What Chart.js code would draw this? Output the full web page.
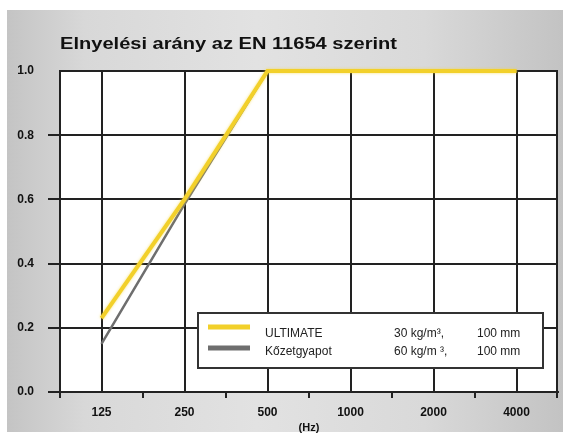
<!DOCTYPE html>
<html>
<head>
<meta charset="utf-8">
<script src="https://cdn.jsdelivr.net/npm/chart.js@4/dist/chart.umd.min.js"></script>
<style>
  html, body { margin: 0; padding: 0; background: #ffffff; }
  #wrap { position: relative; width: 563px; height: 435px; }
  #bg { position: absolute; left: 7px; top: 10px; width: 556px; height: 422px;
        background: linear-gradient(to right, #c4c4c4 0%, #d8d8d8 14%, #e2e2e2 45%, #d9d9d9 75%, #c3c3c3 100%); }
  canvas { position: absolute; left: 0; top: 0; }
</style>
</head>
<body>
<div id="wrap">
  <div id="bg"></div>
  <canvas id="c" width="563" height="435"></canvas>
</div>
<script>
// ---- data ----
const titleText = 'Elnyelési arány az EN 11654 szerint';
const frequencies = ['125', '250', '500', '1000', '2000', '4000'];
const ultimateValues = [0.23, 0.60, 1.0, 1.0, 1.0, 1.0];
const kozetgyapotValues = [0.15, 0.585, 1.0, 1.0, 1.0, 1.0];
const seriesNames = ['ULTIMATE', 'Kőzetgyapot'];
const seriesDensity = ['30 kg/m³,', '60 kg/m ³,'];
const seriesThickness = ['100 mm', '100 mm'];
const axisUnit = '(Hz)';

const YELLOW = '#f2d02a';
const GRAY = '#6e6e6e';
const LINE = '#222222';

const framePlugin = {
  id: 'frame',
  beforeDraw(chart) {
    const { ctx, chartArea: a } = chart;
    ctx.save();
    ctx.fillStyle = '#ffffff';
    ctx.fillRect(a.left, a.top, a.right - a.left, a.bottom - a.top);
    ctx.restore();
  },
  beforeDatasetDraw(chart, args) {
    const ctx = chart.ctx;
    ctx.save();
    if (args.index === 0) {
      ctx.shadowColor = 'rgba(245,215,60,0.7)';
      ctx.shadowBlur = 3;
    }
  },
  afterDatasetDraw(chart) {
    chart.ctx.restore();
  },
  afterDraw(chart) {
    const { ctx, chartArea: a } = chart;
    const x = chart.scales.x;
    ctx.save();
    // right border
    ctx.strokeStyle = LINE;
    ctx.lineWidth = 2;
    ctx.beginPath();
    ctx.moveTo(a.right - 1, a.top);
    ctx.lineTo(a.right - 1, a.bottom);
    ctx.stroke();
    // boundary tick marks below the axis
    const n = frequencies.length;
    const w = (a.right - a.left) / n;
    for (let i = 0; i <= n; i++) {
      let px = Math.round(a.left + i * w);
      if (i === n) px -= 1;
      ctx.beginPath();
      ctx.moveTo(px, a.bottom);
      ctx.lineTo(px, a.bottom + 6);
      ctx.stroke();
    }
    // title (horizontally stretched to match the reference)
    ctx.font = 'bold 17px "Liberation Sans", Arial, sans-serif';
    ctx.fillStyle = '#111111';
    ctx.textBaseline = 'alphabetic';
    ctx.textAlign = 'left';
    const tw = ctx.measureText(titleText).width;
    const sx = 337 / tw;
    ctx.save();
    ctx.translate(60, 49);
    ctx.scale(sx, 1);
    ctx.fillText(titleText, 0, 0);
    ctx.restore();

    // legend box
    const L = 198, T = 313, R = 543, B = 368;
    ctx.fillStyle = '#ffffff';
    ctx.fillRect(L, T, R - L, B - T);
    ctx.strokeStyle = '#333333';
    ctx.lineWidth = 2;
    ctx.strokeRect(L, T, R - L, B - T);
    const rowsY = [334, 352];
    const swY = [327, 348];
    const colors = [YELLOW, GRAY];
    ctx.font = '12px "Liberation Sans", Arial, sans-serif';
    ctx.textBaseline = 'middle';
    ctx.fillStyle = '#222222';
    for (let i = 0; i < seriesNames.length; i++) {
      ctx.strokeStyle = colors[i];
      ctx.lineWidth = 5;
      ctx.beginPath();
      ctx.moveTo(208, swY[i]);
      ctx.lineTo(250, swY[i]);
      ctx.stroke();
      ctx.fillStyle = '#222222';
      ctx.fillText(seriesNames[i], 265, rowsY[i]);
      ctx.fillText(seriesDensity[i], 394, rowsY[i]);
      ctx.fillText(seriesThickness[i], 477, rowsY[i]);
    }
    ctx.restore();
  }
};

new Chart(document.getElementById('c'), {
  type: 'line',
  data: {
    labels: frequencies,
    datasets: [
      { label: seriesNames[0], data: ultimateValues, borderColor: YELLOW, borderWidth: 4,
        pointRadius: 0, tension: 0, clip: false },
      { label: seriesNames[1], data: kozetgyapotValues, borderColor: GRAY, borderWidth: 2.5,
        pointRadius: 0, tension: 0, clip: false }
    ]
  },
  options: {
    responsive: false,
    animation: false,
    events: [],
    layout: { padding: { left: 0, right: 5, top: 71, bottom: 0 } },
    plugins: { legend: { display: false }, title: { display: false }, tooltip: { enabled: false } },
    scales: {
      x: {
        type: 'category',
        offset: true,
        grid: { offset: false, color: LINE, lineWidth: 2, drawTicks: false },
        border: { color: LINE, width: 2 },
        ticks: { color: '#111111', padding: 13,
                 font: { family: '"Liberation Sans", Arial, sans-serif', size: 12, weight: 'bold' } },
        title: { display: true, text: axisUnit, color: '#111111', padding: { top: 0, bottom: 0 },
                 font: { family: '"Liberation Sans", Arial, sans-serif', size: 11, weight: 'bold' } },
        afterFit(s) { s.height = 43; }
      },
      y: {
        min: 0, max: 1,
        ticks: { stepSize: 0.2, padding: 14, color: '#111111',
                 callback: v => Number(v).toFixed(1),
                 font: { family: '"Liberation Sans", Arial, sans-serif', size: 12, weight: 'bold' } },
        grid: { color: LINE, lineWidth: 2, tickLength: 12,
                tickColor: c => (c.tick && c.tick.value >= 1 ? 'rgba(0,0,0,0)' : LINE) },
        border: { color: LINE, width: 2 },
        afterFit(s) { s.width = 60; }
      }
    }
  },
  plugins: [framePlugin]
});
</script>
</body>
</html>
